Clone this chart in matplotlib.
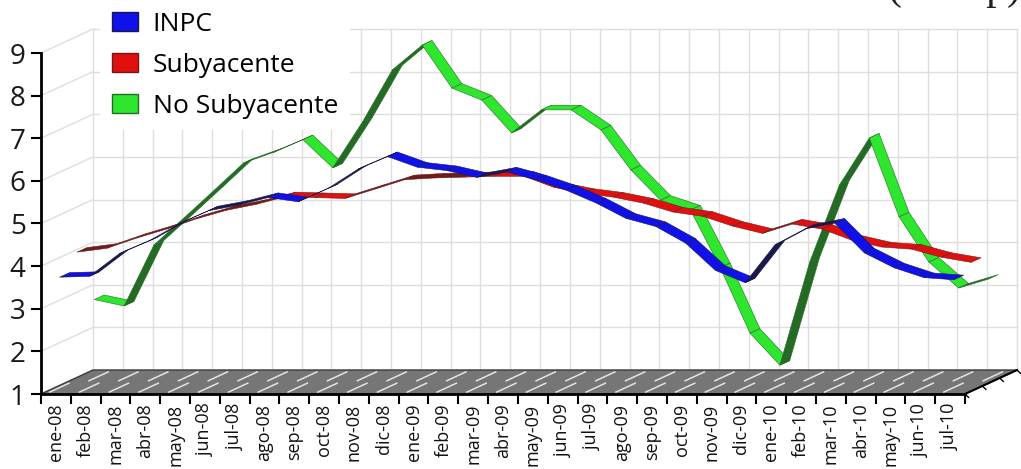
import matplotlib.pyplot as plt
from matplotlib.patches import Polygon, Patch

plt.rcParams['font.family'] = ['Open Sans', 'DejaVu Sans']

# Inflación anual, enero 2008 - julio 2010
meses = ['ene-08', 'feb-08', 'mar-08', 'abr-08', 'may-08', 'jun-08', 'jul-08',
         'ago-08', 'sep-08', 'oct-08', 'nov-08', 'dic-08', 'ene-09', 'feb-09',
         'mar-09', 'abr-09', 'may-09', 'jun-09', 'jul-09', 'ago-09', 'sep-09',
         'oct-09', 'nov-09', 'dic-09', 'ene-10', 'feb-10', 'mar-10', 'abr-10',
         'may-10', 'jun-10', 'jul-10']
inpc = [3.70, 3.72, 4.25, 4.55, 4.95, 5.26, 5.39, 5.57, 5.47, 5.78, 6.23, 6.53,
        6.28, 6.20, 6.04, 6.17, 5.98, 5.74, 5.44, 5.08, 4.89, 4.50, 3.86, 3.57,
        4.46, 4.83, 4.97, 4.27, 3.92, 3.69, 3.64]
subyacente = [4.10, 4.19, 4.43, 4.64, 4.88, 5.08, 5.22, 5.40, 5.38, 5.36, 5.58,
              5.80, 5.84, 5.86, 5.88, 5.88, 5.62, 5.48, 5.39, 5.25, 5.04, 4.94,
              4.71, 4.54, 4.76, 4.64, 4.38, 4.22, 4.17, 3.98, 3.86]
no_subyacente = [2.80, 2.65, 4.08, 4.71, 5.35, 6.00, 6.25, 6.55, 5.89, 6.97,
                 8.19, 8.77, 7.76, 7.48, 6.71, 7.25, 7.25, 6.78, 5.84, 5.13,
                 4.90, 3.55, 2.01, 1.26, 3.68, 5.49, 6.59, 4.74, 3.68, 3.07, 3.28]

nombres = ['INPC', 'Subyacente', 'No Subyacente']
series = [inpc, subyacente, no_subyacente]
claros = ['#1010e8', '#e01010', '#2ee62e']
oscuros = ['#18184a', '#6e1a1a', '#256b25']

fig = plt.figure(figsize=(10.21, 4.69), dpi=100)
ax = fig.add_axes([41 / 1021, 75 / 469, 924 / 1021, 341 / 469])
n = len(meses)
ax.set_xlim(0, n)
ax.set_ylim(1, 9)

# depth vector of the 3d box, in data units
DX, DY = 1.745, 0.563
grid_c = '#dedede'

# back wall and left side wall
for k in range(n + 1):
    ax.plot([k + DX, k + DX], [1 + DY, 9 + DY], color=grid_c, lw=1,
            clip_on=False, zorder=1)
for j in range(1, 10):
    ax.plot([DX, n + DX], [j + DY, j + DY], color=grid_c, lw=1,
            clip_on=False, zorder=1)
    ax.plot([0, DX], [j, j + DY], color=grid_c, lw=1, clip_on=False, zorder=1)

# floor
piso = [(0, 1), (n, 1), (n + DX, 1 + DY), (DX, 1 + DY)]
ax.add_patch(Polygon(piso, closed=True, facecolor='#767676', edgecolor='#3a3a3a',
                     lw=1, clip_on=False, zorder=2))
for k in range(n):
    for d0, d1, off in [(0.08, 0.45, 0.15), (0.55, 0.92, 0.65)]:
        ax.plot([k + off + d0 * DX, k + off + d1 * DX],
                [1 + d0 * DY, 1 + d1 * DY], color='white', lw=1.1,
                alpha=0.8, clip_on=False, zorder=2)

# depth axis on the right side
ax.plot([n, n + DX], [1, 1 + DY], color='black', lw=1.5, clip_on=False, zorder=3)
for t in [0, 1 / 3, 2 / 3, 1]:
    ax.plot([n + t * DX, n + t * DX + 0.12], [1 + t * DY, 1 + t * DY - 0.08],
            color='black', lw=1, clip_on=False, zorder=3)

# ribbons, back row first
w = 0.19
for k in [2, 1, 0]:
    vals = series[k]
    d0 = (k + 0.5) / 3 - w / 2
    for i in range(n - 1):
        x1, x2 = i + 0.5 + d0 * DX, i + 1.5 + d0 * DX
        y1, y2 = vals[i] + d0 * DY, vals[i + 1] + d0 * DY
        pts = [(x1, y1), (x2, y2), (x2 + w * DX, y2 + w * DY),
               (x1 + w * DX, y1 + w * DY)]
        sube = vals[i + 1] > vals[i] + 0.02
        col = oscuros[k] if sube else claros[k]
        ax.add_patch(Polygon(pts, closed=True, facecolor=col,
                             edgecolor=oscuros[k], lw=0.4, clip_on=False,
                             zorder=4 + (2 - k)))

for s in ['top', 'right']:
    ax.spines[s].set_visible(False)
ax.spines['left'].set_bounds(1, 9)
ax.spines['bottom'].set_bounds(0, n)
ax.spines['left'].set_linewidth(2)
ax.spines['bottom'].set_linewidth(2)
ax.spines['left'].set_zorder(8)
ax.spines['bottom'].set_zorder(8)

ax.set_yticks(range(1, 10))
ax.tick_params(axis='y', length=7, width=1.5, labelsize=20, pad=4,
               labelcolor='#1a1a1a')
ax.set_xticks(range(n + 1))
ax.set_xticklabels([])
ax.set_xticks([i + 0.5 for i in range(n)], minor=True)
ax.set_xticklabels(meses, minor=True, rotation=90)
ax.tick_params(axis='x', which='major', length=7, width=1.5)
ax.tick_params(axis='x', which='minor', length=0, labelsize=13, pad=7,
               labelcolor='#111111')

handles = [Patch(facecolor=claros[k], edgecolor=oscuros[k]) for k in range(3)]
fig.legend(handles, nombres, loc='upper left', bbox_to_anchor=(100 / 1021, 1.0),
           frameon=True, facecolor='white', edgecolor='none', framealpha=1,
           fontsize=19, handlelength=1.0, handleheight=0.75, handletextpad=0.55,
           labelspacing=0.6, borderpad=0.45, borderaxespad=0, fancybox=False)

fig.text(1.0, 1 + 1 / 469, '(en %p)', ha='right', va='baseline', fontsize=30,
         family='Liberation Serif', color='#222222')

fig.savefig('out.png', dpi=100)
